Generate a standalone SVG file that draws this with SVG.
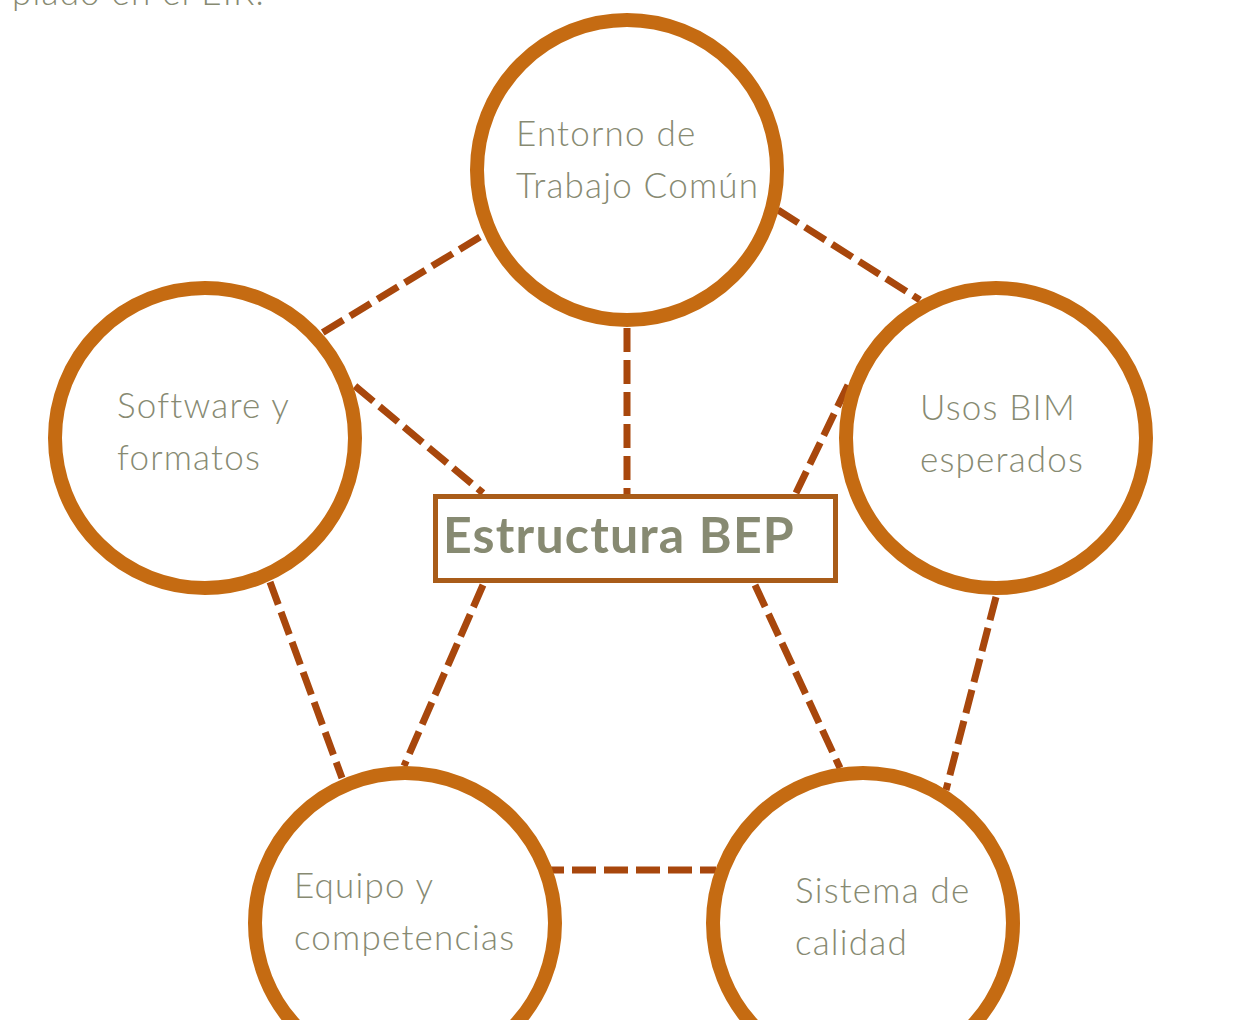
<svg xmlns="http://www.w3.org/2000/svg" width="1255" height="1020" viewBox="0 0 1255 1020">
<style>
.ring{fill:#fff;stroke:#C56B12;stroke-width:14}
.lbl{font-family:"Lato","Noto Sans",sans-serif;font-weight:300;font-size:35px;letter-spacing:1.2px;fill:#878A72}
.conn{stroke:#A8470C;stroke-width:7;stroke-dasharray:24 8;fill:none}
.title{font-family:"Lato","Noto Sans",sans-serif;font-weight:700;font-size:50px;letter-spacing:1.2px;fill:#878A72}
</style>
<rect width="1255" height="1020" fill="#fff"/>
<text class="lbl" x="12" y="5">piado en el EIR.</text>
<g id="connectors">
<line class="conn" x1="480" y1="237" x2="322" y2="333"/>
<line class="conn" x1="778" y1="210" x2="920" y2="300"/>
<line class="conn" x1="627" y1="328" x2="627" y2="495"/>
<line class="conn" x1="355" y1="386" x2="483" y2="493"/>
<line class="conn" x1="848" y1="385" x2="796" y2="493"/>
<line class="conn" x1="270" y1="582" x2="342" y2="778"/>
<line class="conn" x1="483" y1="585" x2="404" y2="766"/>
<line class="conn" x1="755" y1="585" x2="840" y2="768"/>
<line class="conn" x1="996" y1="597" x2="946" y2="790"/>
<line class="conn" x1="540" y1="870" x2="716" y2="870"/>
</g>
<g id="node-entorno">
<circle class="ring" cx="627" cy="170" r="150"/>
<text class="lbl" x="516" y="146">Entorno de</text>
<text class="lbl" x="516" y="198">Trabajo Común</text>
</g>
<g id="node-software">
<circle class="ring" cx="205" cy="438" r="150"/>
<text class="lbl" x="117" y="418">Software y</text>
<text class="lbl" x="117" y="470">formatos</text>
</g>
<g id="node-usos">
<circle class="ring" cx="996" cy="438" r="150"/>
<text class="lbl" x="920" y="420">Usos BIM</text>
<text class="lbl" x="920" y="472">esperados</text>
</g>
<g id="node-equipo">
<circle class="ring" cx="405" cy="923" r="150"/>
<text class="lbl" x="294" y="898">Equipo y</text>
<text class="lbl" x="294" y="950">competencias</text>
</g>
<g id="node-sistema">
<circle class="ring" cx="863" cy="923" r="150"/>
<text class="lbl" x="795" y="903">Sistema de</text>
<text class="lbl" x="795" y="955">calidad</text>
</g>
<g id="node-bep">
<rect x="435.5" y="496.5" width="400" height="84" fill="#fff" stroke="#A95C19" stroke-width="5"/>
<text class="title" x="443" y="553">Estructura BEP</text>
</g>
</svg>
